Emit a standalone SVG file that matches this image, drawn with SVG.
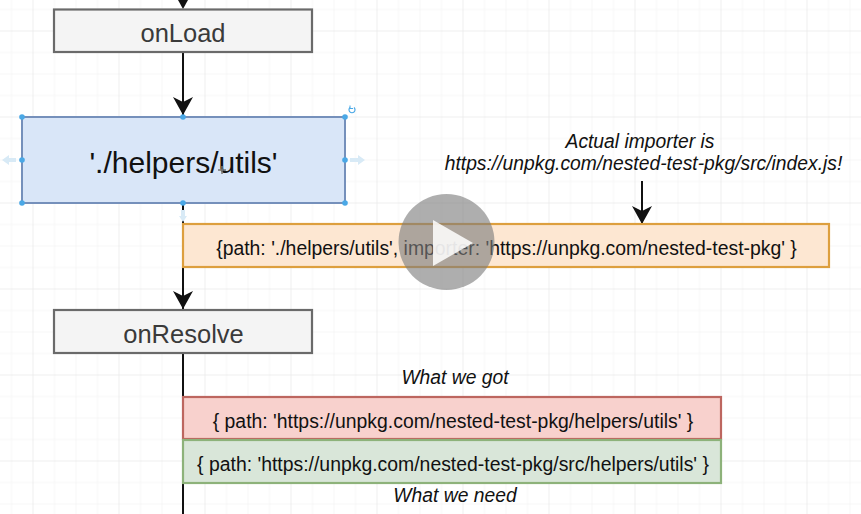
<svg xmlns="http://www.w3.org/2000/svg" width="861" height="514" viewBox="0 0 861 514">
<style>
text{font-family:"Liberation Sans",Arial,sans-serif;text-anchor:middle;fill:#111}
.conn{stroke:#111;stroke-width:2;fill:none}
.grey{fill:#f4f4f4;stroke:#6a6a6a;stroke-width:2.2}
.label{font-size:25.500px;fill:#3a3a3a}
.box{stroke-width:2.2}
.t19{font-size:19.400px}
.i{font-size:19.300px;font-style:italic}
.h{fill:#4aa8e6}
.soft{fill:#d8eaf6}
</style>
<defs>
<pattern id="grid" width="86" height="86" patternUnits="userSpaceOnUse" x="32.500" y="30.500">
<path d="M22 0V86M43.500 0V86M65 0V86M0 22H86M0 43.500H86M0 65H86" stroke="#f6f6f6" stroke-width="1" fill="none"/>
<path d="M.5 0V86M0 .5H86" stroke="#eeeeee" stroke-width="1" fill="none"/>
</pattern>
<marker id="arrow" markerUnits="userSpaceOnUse" markerWidth="20" markerHeight="22" refX="18" refY="11" orient="auto">
<path d="M0 1L18 11L0 21L5 11Z" fill="#111"/>
</marker>
</defs>
<rect width="861" height="514" fill="#fff"/>
<rect width="861" height="514" fill="url(#grid)"/>
<g id="connectors">
<path d="M178 0H188L183 9Z" fill="#111"/>
<path class="conn" d="M183 52V115" marker-end="url(#arrow)"/>
<path class="conn" d="M183 203V309" marker-end="url(#arrow)"/>
<path class="conn" d="M183 354V514"/>
<path class="conn" d="M642 181V224" marker-end="url(#arrow)"/>
</g>
<g id="node-onload">
<rect class="grey" x="54" y="9.500" width="258" height="42.500"/>
<text class="label" x="183" y="41.500">onLoad</text>
</g>
<g id="node-helpers">
<rect x="22" y="117" width="323" height="86" fill="#d9e6f8" stroke="#7590bb" stroke-width="2"/>
<text x="183.500" y="173" font-size="30">'./helpers/utils'</text>
<path d="M222 166V174M218 170H226" stroke="#777" stroke-width="1.500"/>
<g class="h">
<circle cx="22" cy="117" r="2.800"/><circle cx="183" cy="117" r="2.800"/><circle cx="345" cy="117" r="2.800"/>
<circle cx="22" cy="160" r="2.800"/><circle cx="345" cy="160" r="2.800"/>
<circle cx="22" cy="203" r="2.800"/><circle cx="183" cy="203" r="2.800"/><circle cx="345" cy="203" r="2.800"/>
</g>
<path class="soft" d="M2 160L9 155V158H16V162H9V165Z"/>
<path class="soft" d="M365 160L358 155V158H350V162H358V165Z"/>
<path class="soft" d="M183 222L179 216H181V210H185V216H187Z"/>
<path d="M354 107.500A3 3 0 1 1 350 107.500" fill="none" stroke="#4aa8e6" stroke-width="1.200"/>
<path d="M350 105.500V108.500H353" fill="none" stroke="#4aa8e6" stroke-width="1"/>
</g>
<g id="node-importer">
<rect class="box" x="183" y="224" width="646" height="43" fill="#fde7d2" stroke="#dd9f3e"/>
<text class="t19" x="506.500" y="255">{path: './helpers/utils', importer: 'https://unpkg.com/nested-test-pkg' }</text>
</g>
<g id="node-onresolve">
<rect class="grey" x="54" y="310" width="258" height="43"/>
<text class="label" x="183.500" y="342.500">onResolve</text>
</g>
<g id="node-got">
<rect class="box" x="183" y="397" width="538" height="42" fill="#f8d1cd" stroke="#bd665f"/>
<text class="t19" x="453" y="428">{ path: 'https://unpkg.com/nested-test-pkg/helpers/utils' }</text>
</g>
<g id="node-need">
<rect class="box" x="183" y="440" width="538" height="43" fill="#d9e6d9" stroke="#8db27a"/>
<text class="t19" x="453" y="471">{ path: 'https://unpkg.com/nested-test-pkg/src/helpers/utils' }</text>
</g>
<g id="labels">
<text class="i" x="640" y="148">Actual importer is</text>
<text class="i" x="643.500" y="170">https://unpkg.com/nested-test-pkg/src/index.js!</text>
<text class="i" x="455" y="384">What we got</text>
<text class="i" x="455" y="502">What we need</text>
</g>
<g id="play">
<circle cx="446.500" cy="242" r="48" fill="#7d7d7d" fill-opacity=".62"/>
<path d="M433 220L473 243L433 266Z" fill="#fff" fill-opacity=".85"/>
</g>
</svg>
